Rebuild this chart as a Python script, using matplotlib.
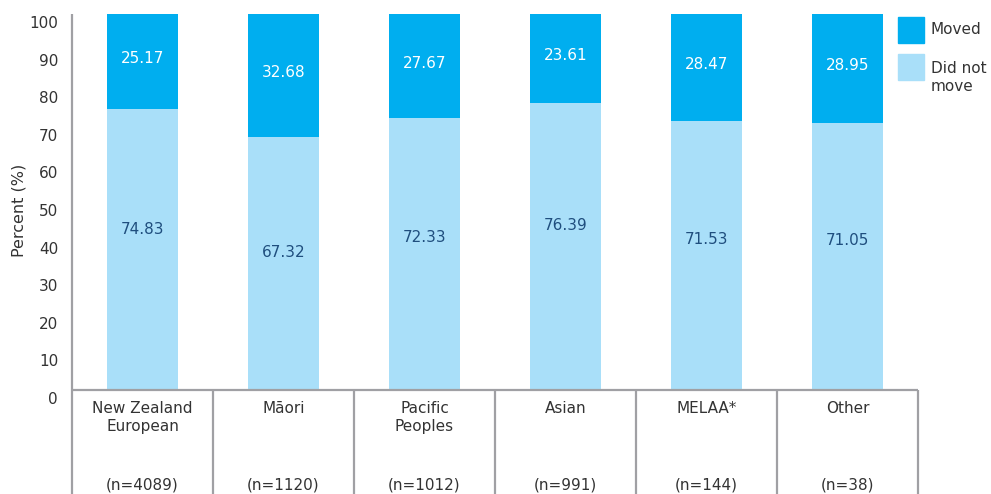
import matplotlib
matplotlib.use("Agg")
import matplotlib.pyplot as plt
import matplotlib.transforms as mtransforms
from matplotlib.patches import Rectangle
import numpy as np

groups = ["New Zealand\nEuropean", "Māori", "Pacific\nPeoples", "Asian", "MELAA*", "Other"]
sample_sizes = ["(n=4089)", "(n=1120)", "(n=1012)", "(n=991)", "(n=144)", "(n=38)"]
did_not_move = [74.83, 67.32, 72.33, 76.39, 71.53, 71.05]
moved = [25.17, 32.68, 27.67, 23.61, 28.47, 28.95]

C_MOVED = "#00aeef"
C_STAYED = "#a9dff9"
C_LINE = "#a0a0a4"
C_TEXT = "#333333"
C_LABEL_DARK = "#1f4e7e"

W, H, DPI = 991, 494, 100
plt.rcParams["font.family"] = "DejaVu Sans"

fig = plt.figure(figsize=(W / DPI, H / DPI), dpi=DPI)
# axes box in pixel terms: x 72..918, y 14..390 (top-down)
ax = fig.add_axes([72 / W, (H - 390) / H, (918 - 72) / W, (390 - 14) / H])

x = np.arange(len(groups))
ax.bar(x, did_not_move, width=0.5, color=C_STAYED, zorder=2)
ax.bar(x, moved, width=0.5, bottom=did_not_move, color=C_MOVED, zorder=2)

for xi, lo, hi in zip(x, did_not_move, moved):
    # lower labels sit somewhat above the middle of their segment
    ax.annotate(f"{lo:.2f}", (xi, 0.79 * lo - 16.5), xytext=(0, 0), textcoords="offset points",
                ha="center", va="center", fontsize=11, color=C_LABEL_DARK)
    ax.annotate(f"{hi:.2f}", (xi, lo + hi / 2), xytext=(0, 2), textcoords="offset points",
                ha="center", va="center", fontsize=11, color="white")

ax.set_xlim(-0.5, len(groups) - 0.5)
ax.set_ylim(0, 100)
ax.set_yticks(np.arange(0, 101, 10))
ax.set_xticks([])
ax.tick_params(axis="y", length=0, pad=10, labelsize=11, labelcolor=C_TEXT)
shift = mtransforms.ScaledTranslation(0, -8 / DPI, fig.dpi_scale_trans)
for lab in ax.get_yticklabels():
    lab.set_transform(lab.get_transform() + shift)

for side in ["top", "right", "bottom", "left"]:
    ax.spines[side].set_visible(False)

# category table below the axis
xt = ax.get_xaxis_transform()
depth = -(H - 390 + 5) / (390 - 14)
ax.plot([-0.5, len(groups) - 0.5], [0, 0], transform=xt, color=C_LINE, lw=1.6,
        clip_on=False, solid_capstyle="butt", zorder=3)
ax.plot([-0.5, -0.5], [depth, 1], transform=xt, color=C_LINE, lw=1.6,
        clip_on=False, solid_capstyle="butt", zorder=3)
for edge in np.arange(0.5, len(groups), 1.0):
    ax.plot([edge, edge], [depth, 0], transform=xt, color=C_LINE, lw=1.6,
            clip_on=False, solid_capstyle="butt", zorder=3)

px = 1 / (390 - 14)
for xi, name, n in zip(x, groups, sample_sizes):
    ax.text(xi, -11 * px, name, transform=xt, ha="center", va="top", fontsize=11,
            color=C_TEXT, linespacing=1.25)
    ax.text(xi, -95 * px, n, transform=xt, ha="center", va="center", fontsize=11,
            color=C_TEXT)

fig.text(19 / W, 1 - 210 / H, "Percent (%)", rotation=90, ha="center", va="center",
         fontsize=11.5, color=C_TEXT)

# legend
for top, color in [(17, C_MOVED), (54, C_STAYED)]:
    fig.add_artist(Rectangle((898 / W, 1 - (top + 26) / H), 26 / W, 26 / H,
                             transform=fig.transFigure, color=color))
fig.text(931 / W, 1 - 29 / H, "Moved", ha="left", va="center", fontsize=11, color=C_TEXT)
fig.text(931 / W, 1 - 61 / H, "Did not\nmove", ha="left", va="top", fontsize=11,
         color=C_TEXT, linespacing=1.25)

fig.savefig("out.png", dpi=DPI)
